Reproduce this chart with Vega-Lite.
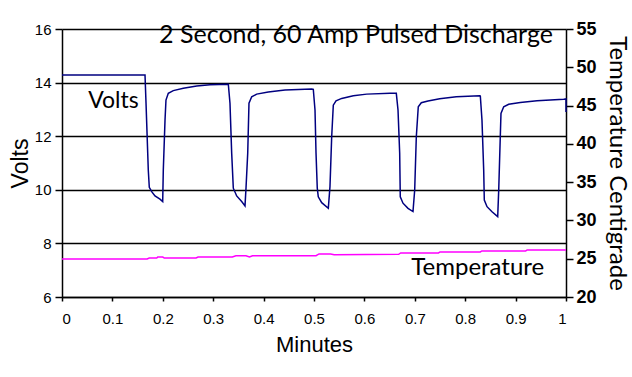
{
  "$schema": "https://vega.github.io/schema/vega-lite/v6.json",
  "width": 504,
  "height": 268,
  "autosize": "none",
  "padding": {"left": 62, "top": 29, "right": 66, "bottom": 80},
  "background": "white",
  "config": {
    "view": {"stroke": null},
    "axis": {"domainColor": "black", "domainWidth": 1.5, "tickColor": "black", "tickWidth": 1.5, "labelColor": "black", "titleColor": "black", "labelFont": "Liberation Sans", "titleFont": "Liberation Sans", "titleFontWeight": "normal", "labelOverlap": false}
  },
  "datasets": {
    "volts": [
      {"m": 0, "v": 14.28}, {"m": 0.1647, "v": 14.28}, {"m": 0.1667, "v": 13.24}, {"m": 0.1712, "v": 10.74}, {"m": 0.1732, "v": 10.09},
      {"m": 0.178, "v": 9.93}, {"m": 0.1845, "v": 9.77}, {"m": 0.1944, "v": 9.65}, {"m": 0.1998, "v": 9.56}, {"m": 0.201, "v": 10.74},
      {"m": 0.2044, "v": 12.6}, {"m": 0.2063, "v": 13.35}, {"m": 0.2109, "v": 13.6}, {"m": 0.2208, "v": 13.7}, {"m": 0.2407, "v": 13.79},
      {"m": 0.2673, "v": 13.87}, {"m": 0.2937, "v": 13.92}, {"m": 0.33, "v": 13.94},
      {"m": 0.3333, "v": 13.23}, {"m": 0.3367, "v": 11.36}, {"m": 0.3399, "v": 10.06}, {"m": 0.3466, "v": 9.77}, {"m": 0.3565, "v": 9.56},
      {"m": 0.3631, "v": 9.4}, {"m": 0.3651, "v": 10.07}, {"m": 0.3685, "v": 11.37}, {"m": 0.371, "v": 13.23}, {"m": 0.3764, "v": 13.47},
      {"m": 0.3863, "v": 13.57}, {"m": 0.4093, "v": 13.65}, {"m": 0.4425, "v": 13.72}, {"m": 0.4954, "v": 13.76}, {"m": 0.4986, "v": 13.75},
      {"m": 0.502, "v": 12.98}, {"m": 0.504, "v": 11.37}, {"m": 0.5065, "v": 10.06}, {"m": 0.5085, "v": 9.74}, {"m": 0.5153, "v": 9.52},
      {"m": 0.5284, "v": 9.31}, {"m": 0.5317, "v": 10.12}, {"m": 0.5351, "v": 11.98}, {"m": 0.5383, "v": 13.16}, {"m": 0.5437, "v": 13.32},
      {"m": 0.555, "v": 13.41}, {"m": 0.578, "v": 13.51}, {"m": 0.6046, "v": 13.57}, {"m": 0.6508, "v": 13.6}, {"m": 0.6633, "v": 13.6},
      {"m": 0.6667, "v": 12.98}, {"m": 0.67, "v": 11.37}, {"m": 0.6712, "v": 9.74}, {"m": 0.6766, "v": 9.5}, {"m": 0.6865, "v": 9.31},
      {"m": 0.6964, "v": 9.19}, {"m": 0.6998, "v": 9.99}, {"m": 0.703, "v": 11.98}, {"m": 0.7069, "v": 13.1}, {"m": 0.7129, "v": 13.25},
      {"m": 0.7262, "v": 13.31}, {"m": 0.7494, "v": 13.4}, {"m": 0.7823, "v": 13.47}, {"m": 0.8288, "v": 13.51}, {"m": 0.83, "v": 13.5},
      {"m": 0.8333, "v": 12.6}, {"m": 0.8367, "v": 10.74}, {"m": 0.8379, "v": 9.62}, {"m": 0.8433, "v": 9.37}, {"m": 0.8532, "v": 9.18},
      {"m": 0.8645, "v": 9.0}, {"m": 0.8665, "v": 9.99}, {"m": 0.8696, "v": 11.98}, {"m": 0.871, "v": 12.85}, {"m": 0.8764, "v": 13.1},
      {"m": 0.8863, "v": 13.19}, {"m": 0.9093, "v": 13.26}, {"m": 0.9425, "v": 13.32}, {"m": 0.9954, "v": 13.38}, {"m": 1.0, "v": 13.39},
      {"m": 1.0, "v": 12.9}
    ],
    "temp": [
      {"m": 0, "t": 24.96}, {"m": 0.169, "t": 24.96}, {"m": 0.173, "t": 25.09}, {"m": 0.188, "t": 25.09}, {"m": 0.19, "t": 25.22},
      {"m": 0.2, "t": 25.22}, {"m": 0.203, "t": 25.09}, {"m": 0.266, "t": 25.09}, {"m": 0.27, "t": 25.22}, {"m": 0.338, "t": 25.22},
      {"m": 0.345, "t": 25.39}, {"m": 0.365, "t": 25.39}, {"m": 0.372, "t": 25.22}, {"m": 0.378, "t": 25.39}, {"m": 0.504, "t": 25.39},
      {"m": 0.51, "t": 25.62}, {"m": 0.533, "t": 25.62}, {"m": 0.54, "t": 25.52}, {"m": 0.668, "t": 25.58}, {"m": 0.672, "t": 25.75},
      {"m": 0.747, "t": 25.75}, {"m": 0.75, "t": 25.88}, {"m": 0.83, "t": 25.88}, {"m": 0.833, "t": 26.01}, {"m": 0.92, "t": 26.01},
      {"m": 0.923, "t": 26.14}, {"m": 1.0, "t": 26.14}
    ],
    "vlabels": [{"m": 0.052, "v": 13.05, "label": "Volts"}],
    "title": [{"m": 0.974, "v": 15.49, "label": "2 Second, 60 Amp Pulsed Discharge"}],
    "tlabels": [{"m": 0.693, "t": 22.87, "label": "Temperature"}]
  },
  "layer": [
    {
      "encoding": {
        "x": {"field": "m", "type": "quantitative", "scale": {"domain": [0, 1], "nice": false}, "sort": null,
          "axis": {"values": [0, 0.1, 0.2, 0.3, 0.4, 0.5, 0.6, 0.7, 0.8, 0.9, 1], "format": ".1~f", "title": "Minutes", "grid": false,
            "tickSize": 4, "labelPadding": 10, "labelFontSize": 15, "titleFontSize": 22, "titleY": 47, "titleBaseline": "middle"}},
        "y": {"field": "v", "type": "quantitative", "scale": {"domain": [6, 16], "nice": false, "zero": false},
          "axis": {"values": [6, 8, 10, 12, 14, 16], "title": "Volts", "grid": true, "gridColor": "black", "gridWidth": 1.5, "gridOpacity": 1,
            "tickSize": 7, "labelPadding": 4, "labelFontSize": 15, "labelOverlap": false, "titleFontSize": 23, "titleX": -42, "titleY": 134, "titleAngle": -90, "titleBaseline": "middle", "titleAlign": "center"}}
      },
      "layer": [
        {
          "data": {"name": "volts"},
          "mark": {"type": "line", "color": "#000080", "strokeWidth": 1.5, "interpolate": "linear"}
        },
        {
          "data": {"name": "vlabels"},
          "mark": {"type": "text", "align": "left", "baseline": "alphabetic", "font": "Lato", "fontSize": 23, "color": "black"},
          "encoding": {"text": {"field": "label"}}
        },
        {
          "data": {"name": "title"},
          "mark": {"type": "text", "align": "right", "baseline": "alphabetic", "font": "Lato", "fontSize": 25, "color": "black"},
          "encoding": {"text": {"field": "label"}}
        }
      ]
    },
    {
      "encoding": {
        "x": {"field": "m", "type": "quantitative", "sort": null},
        "y": {"field": "t", "type": "quantitative", "scale": {"domain": [20, 55], "nice": false, "zero": false},
          "axis": {"orient": "right", "values": [20, 25, 30, 35, 40, 45, 50, 55], "title": "Temperature Centigrade", "grid": false,
            "tickSize": 7, "labelPadding": 3, "labelFontSize": 18, "labelFontWeight": "bold", "labelOverlap": false, "titleFontSize": 24, "titleFont": "Lato",
            "titleX": 50, "titleY": 134, "titleAngle": 90, "titleBaseline": "middle", "titleAlign": "center"}}
      },
      "layer": [
        {
          "data": {"name": "temp"},
          "mark": {"type": "line", "color": "#FF00FF", "strokeWidth": 1.5, "interpolate": "linear"}
        },
        {
          "data": {"name": "tlabels"},
          "mark": {"type": "text", "align": "left", "baseline": "alphabetic", "font": "Lato", "fontSize": 24, "color": "black"},
          "encoding": {"text": {"field": "label"}}
        }
      ]
    }
  ],
  "resolve": {"scale": {"y": "independent"}}
}
